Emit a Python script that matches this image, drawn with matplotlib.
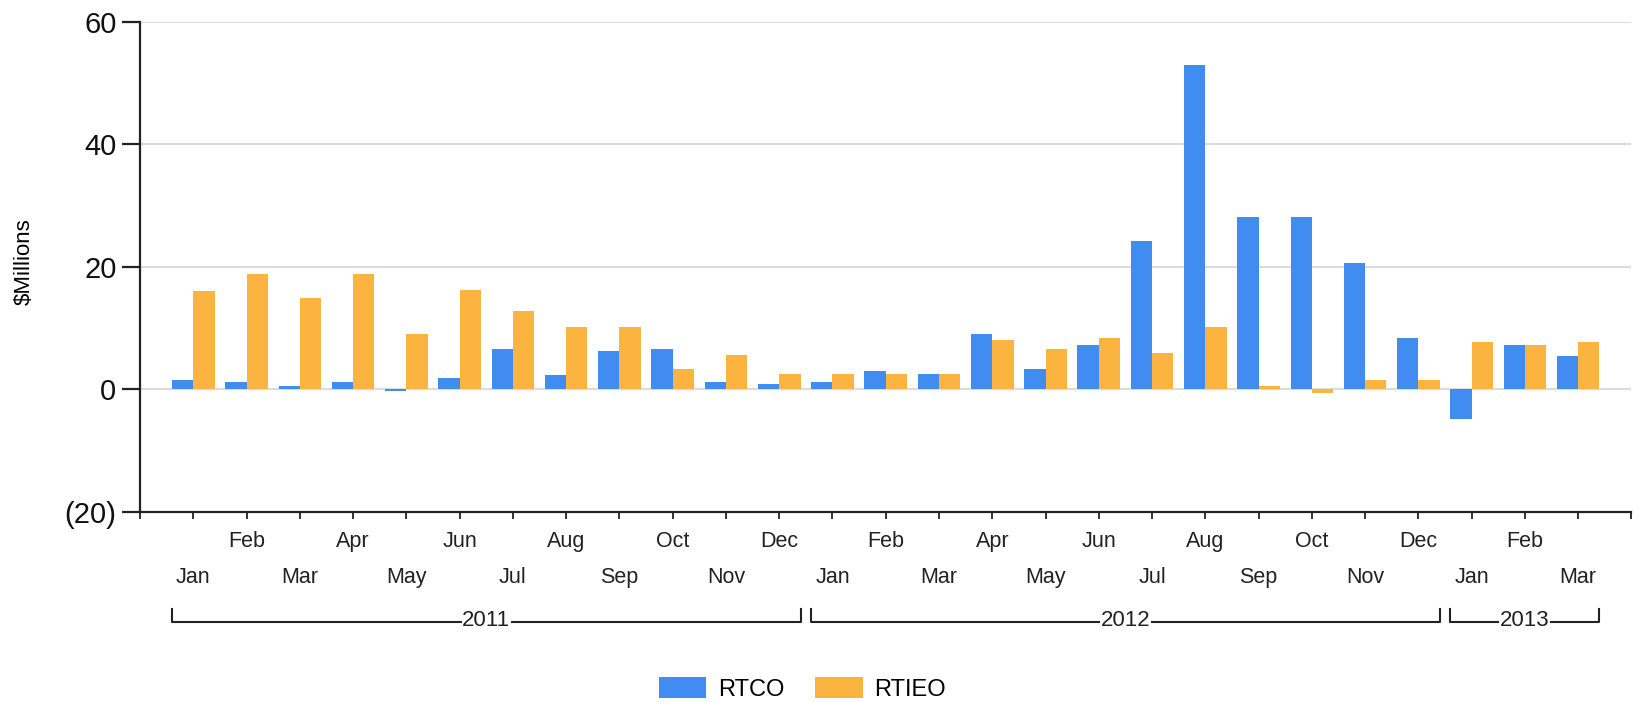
import numpy as np
import matplotlib
matplotlib.use("Agg")
import matplotlib.pyplot as plt
from matplotlib.patches import Patch
import matplotlib.transforms as mtransforms

plt.rcParams["font.family"] = ["Liberation Sans", "DejaVu Sans"]

# --- data -------------------------------------------------------------
MONTHS = ["Jan", "Feb", "Mar", "Apr", "May", "Jun",
          "Jul", "Aug", "Sep", "Oct", "Nov", "Dec",
          "Jan", "Feb", "Mar", "Apr", "May", "Jun",
          "Jul", "Aug", "Sep", "Oct", "Nov", "Dec",
          "Jan", "Feb", "Mar"]
YEARS = ["2011", "2012", "2013"]
YEAR_COUNTS = [12, 12, 3]

RTCO = [1.6, 1.2, 0.5, 1.2, -0.3, 1.9, 6.6, 2.3, 6.3, 6.6, 1.2, 0.9,
        1.2, 3.0, 2.6, 9.1, 3.4, 7.3, 24.2, 52.9, 28.1, 28.1, 20.6, 8.4,
        -4.9, 7.3, 5.5]
RTIEO = [16.0, 18.9, 14.9, 18.9, 9.1, 16.3, 12.8, 10.2, 10.2, 3.4, 5.6, 2.6,
         2.6, 2.6, 2.6, 8.0, 6.6, 8.4, 5.9, 10.2, 0.5, -0.6, 1.6, 1.6,
         7.7, 7.3, 7.7]

BLUE = "#418CF0"
ORANGE = "#FCB441"


def fmt_money(v, pos=None):
    v = int(round(v))
    return f"({abs(v)})" if v < 0 else f"{v}"


def main():
    fig = plt.figure(figsize=(16.38, 7.02), dpi=100)
    ax = fig.add_axes([0.0855, 0.2707, 0.9105, 0.698])

    x = np.arange(len(MONTHS))
    w = 0.4
    ax.bar(x - w / 2, RTCO, width=w, color=BLUE, zorder=3)
    ax.bar(x + w / 2, RTIEO, width=w, color=ORANGE, zorder=3)

    ax.set_xlim(-1, len(MONTHS))
    ax.set_ylim(-20, 60)
    ax.set_yticks([-20, 0, 20, 40, 60])
    ax.yaxis.set_major_formatter(plt.FuncFormatter(fmt_money))
    ax.grid(axis="y", color="#DCDCDC", linewidth=1.5, zorder=0)
    ax.set_axisbelow(True)

    for side in ("top", "right"):
        ax.spines[side].set_visible(False)
    for side in ("left", "bottom"):
        ax.spines[side].set_linewidth(1.6)
        ax.spines[side].set_color("#222222")

    ax.tick_params(axis="y", length=13, width=1.6, labelsize=21, pad=4,
                   color="#222222", labelcolor="#111111")
    ax.set_xticks(np.arange(-1, len(MONTHS) + 1))
    ax.set_xticklabels([])
    ax.tick_params(axis="x", length=5, width=1.3, color="#222222")

    ax.set_ylabel("$Millions", fontsize=16)
    ax.yaxis.set_label_coords(-0.0705, 0.51)

    trans = mtransforms.blended_transform_factory(ax.transData, ax.transAxes)

    # month labels on two alternating rows
    for i, m in enumerate(MONTHS):
        yy = -0.061 if i % 2 == 1 else -0.133
        ax.text(i, yy, m, transform=trans, ha="center", va="center",
                fontsize=15.5, color="#222222")

    # year brackets
    start = 0
    for yr, n in zip(YEARS, YEAR_COUNTS):
        x0, x1 = start - 0.4, start + n - 1 + 0.4
        ax.plot([x0, x0, x1, x1], [-0.198, -0.224, -0.224, -0.198],
                transform=trans, color="#222222", lw=1.5, clip_on=False)
        ax.text((x0 + x1) / 2, -0.222, yr, transform=trans, ha="center",
                va="center", fontsize=16, color="#222222",
                bbox=dict(facecolor="white", edgecolor="none", pad=0.5))
        start += n

    handles = [Patch(facecolor=BLUE, label="RTCO"),
               Patch(facecolor=ORANGE, label="RTIEO")]
    fig.legend(handles=handles, loc="center", bbox_to_anchor=(0.49, 0.0185),
               ncol=2, frameon=False, fontsize=17, handlelength=2.0,
               handleheight=1.0, columnspacing=1.3, handletextpad=0.5)

    fig.savefig("out.png", dpi=100)


if __name__ == "__main__":
    main()
